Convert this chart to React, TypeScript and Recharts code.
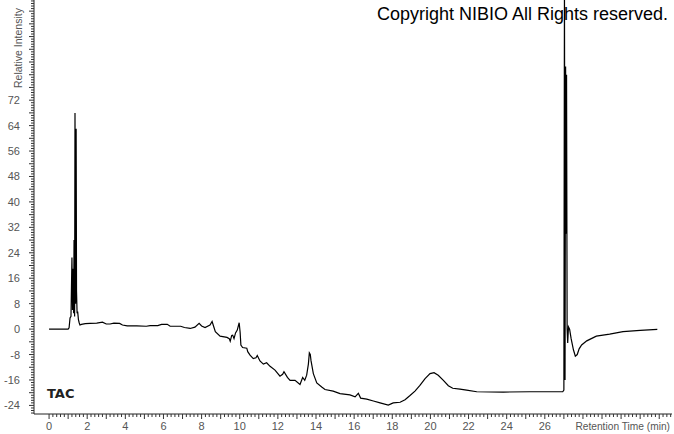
import React from 'react';
import { LineChart, Line, XAxis, YAxis } from 'recharts';

// Retention time (min) and relative intensity
const retentionTime = [
  0, 1.0, 1.05, 1.1, 1.15, 1.2, 1.23, 1.26, 1.29, 1.31, 1.34, 1.36, 1.39, 1.42, 1.44, 1.47, 1.5, 1.54, 1.58, 1.62,
  1.7, 1.9, 2.15, 2.5, 2.8, 3.0, 3.2, 3.4, 3.7, 3.85, 4.1, 4.6, 5.1, 5.3, 5.7, 5.9, 6.2, 6.35, 6.9, 7.1,
  7.4, 7.65, 7.87, 8.0, 8.18, 8.44, 8.55, 8.65, 8.72, 8.97, 9.33, 9.45, 9.5, 9.58, 9.63, 9.7, 9.78, 9.87, 9.97, 10.02,
  10.06, 10.15, 10.37, 10.42, 10.54, 10.71, 10.85, 10.92, 11.06, 11.24, 11.41, 11.59, 11.85, 12.11, 12.25, 12.32, 12.5, 12.64, 12.9, 13.16,
  13.3, 13.41, 13.51, 13.6, 13.65, 13.7, 13.74, 13.86, 14.04, 14.3, 14.47, 14.9, 15.26, 15.78, 16.05, 16.22, 16.34, 16.66, 17.01, 17.36,
  17.79, 18.05, 18.41, 18.67, 18.93, 19.19, 19.45, 19.72, 19.98, 20.19, 20.41, 20.68, 20.94, 21.17, 21.55, 21.9, 22.43, 23.82, 25.2, 26.94,
  27.0, 27.03, 27.06, 27.09, 27.12, 27.14, 27.17, 27.2, 27.24, 27.3, 27.38, 27.5, 27.6, 27.7, 27.8, 27.93, 28.2, 28.7, 29.4, 30.1,
  31.0, 31.9,
];
const intensity = [
  0, 0, 0.4, 3.5, 4, 22.5, 6, 19, 5, 28, 4, 68, 8, 63, 12, 5, 5.5, 3, 2, 1.3,
  1.5, 1.7, 1.8, 1.9, 2.2, 1.6, 1.6, 1.9, 1.8, 1.3, 1.0, 1.0, 0.9, 1.1, 1.1, 1.5, 1.5, 0.9, 0.9, 0.5,
  0.2, 0.6, 1.8, 1.0, 0.5, 1.3, 2.4, 0.5, -0.8, -2.2, -2.6, -3.0, -3.8, -2.0, -1.9, -3.0, -1.2, -0.3, 2.0, -1,
  -5, -5.8, -6.0, -7.1, -8.2, -9.3, -9.0, -8.3, -10, -11, -10.6, -11.7, -12.9, -14.8, -14.2, -13.4, -15.2, -16.1, -16.1, -17.4,
  -15.2, -16.1, -14.5, -11, -7.5, -8, -10, -14, -16.9, -18.2, -19.0, -19.5, -20.3, -20.7, -21.3, -20.2, -21.7, -22.0, -22.6, -23.2,
  -23.9, -23.2, -23.0, -22.2, -20.9, -19.5, -17.7, -15.6, -14.0, -13.7, -14.5, -16.1, -17.8, -18.6, -18.9, -19.2, -19.7, -19.8, -19.7, -19.7,
  -19.2, 110, -16, 82.6, 30, 80, 0, -4.4, 0.7, 0, -3, -6.5, -8.5, -8, -6.2, -5, -3.7, -2.2, -1.6, -0.8,
  -0.4, -0.1,
];

const xLabels = [0, 2, 4, 6, 8, 10, 12, 14, 16, 18, 20, 22, 24, 26];
const yLabels = [-24, -16, -8, 0, 8, 16, 24, 32, 40, 48, 56, 64, 72];

// minor tick positions
const xTicks: number[] = [];
for (let i = 0; i <= 163; i++) xTicks.push(Math.round(i * 2) / 10);
const yTicks: number[] = [];
for (let i = -33; i <= 129; i++) yTicks.push(Math.round(i * 8) / 10);

const data = retentionTime.map((t, i) => ({ t, v: intensity[i] }));

const font = '"Liberation Sans", Arial, sans-serif';

const XTick = (props: any) => {
  const { x, y, payload } = props;
  const val = payload.value;
  const k = Math.round(val * 5);
  const len = k % 5 === 0 ? 5 : 3;
  const label = xLabels.find((l) => Math.abs(l - val) < 0.01);
  return (
    <g>
      <line x1={x} x2={x} y1={y} y2={y + len} stroke="#333" />
      {label !== undefined && (
        <text x={x} y={y + 16} textAnchor="middle" fontSize={11} fill="#555" fontFamily={font}>
          {label}
        </text>
      )}
    </g>
  );
};

const YTick = (props: any) => {
  const { x, y, payload } = props;
  const val = payload.value;
  const k = Math.round(val * 1.25);
  const len = k % 5 === 0 ? 5 : 3;
  const label = yLabels.find((l) => Math.abs(l - val) < 0.01);
  return (
    <g>
      <line x1={x - len} x2={x} y1={y} y2={y} stroke="#333" />
      {label !== undefined && (
        <text x={x - 14} y={y + 4} textAnchor="end" fontSize={11} fill="#555" fontFamily={font}>
          {label}
        </text>
      )}
    </g>
  );
};

export default function App() {
  return (
    <div style={{ width: 674, height: 434, background: '#fff' }}>
      <style>{`body{margin:0}`}</style>
      <LineChart width={674} height={434} data={data} margin={{ top: 0, right: 2, bottom: 0, left: 0 }}>
        <XAxis
          type="number"
          dataKey="t"
          domain={[-0.79, 32.67]}
          allowDataOverflow
          ticks={xTicks}
          interval={0}
          height={20}
          tickSize={0}
          tickMargin={0}
          tickLine={false}
          axisLine={{ stroke: '#222' }}
          tick={XTick}
        />
        <YAxis
          type="number"
          domain={[-26.7, 103.5]}
          allowDataOverflow
          ticks={yTicks}
          interval={0}
          width={34}
          tickSize={0}
          tickMargin={0}
          tickLine={false}
          axisLine={{ stroke: '#222' }}
          tick={YTick}
        />
        <Line
          type="linear"
          dataKey="v"
          stroke="#000"
          strokeWidth={1.2}
          dot={false}
          activeDot={false}
          isAnimationActive={false}
        />
        <text x={377} y={20} fontSize={18} fill="#000" fontFamily={font}>
          Copyright NIBIO All Rights reserved.
        </text>
        <text x={47} y={398} fontSize={13} fontWeight="bold" fill="#222" fontFamily='"DejaVu Sans", sans-serif'>
          TAC
        </text>
        <text x={670} y={430} textAnchor="end" fontSize={10.2} fill="#555" fontFamily={font}>
          Retention Time (min)
        </text>
        <text x={22} y={88} fontSize={10.5} fill="#555" fontFamily={font} transform="rotate(-90 22 88)">
          Relative Intensity
        </text>
      </LineChart>
    </div>
  );
}
